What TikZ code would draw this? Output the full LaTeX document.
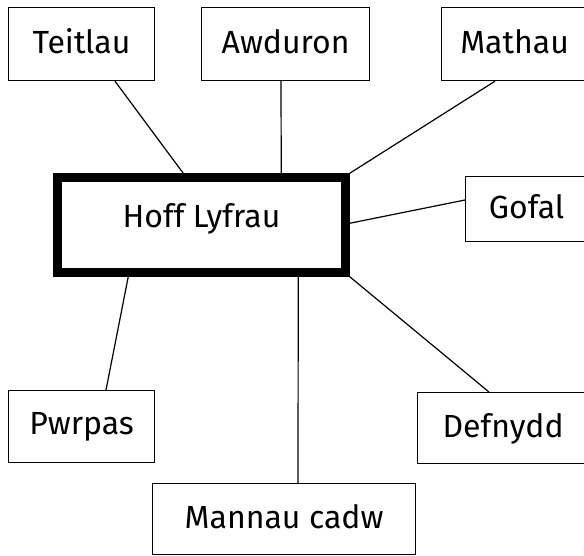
\documentclass[tikz,border=0pt]{standalone}
\usepackage{fontspec}
\setmainfont{Fira Sans}
\usepackage{tikz}

\begin{document}
\begin{tikzpicture}[x=1pt,y=-1pt,
  box/.style={draw,line width=1.2pt,anchor=north west,inner sep=0pt,text depth=6pt,
    font=\fontsize{32}{38}\selectfont},
  mainbox/.style={box,line width=8.5pt,text depth=20pt}]
\useasboundingbox (0,0) rectangle (584,555);
\node[box,minimum width=146pt,minimum height=73pt] (teitlau) at (8,7){Teitlau};
\node[box,minimum width=168pt,minimum height=73pt] (awduron) at (201,7){Awduron};
\node[box,minimum width=146pt,minimum height=73pt] (mathau) at (441,7){Mathau};
\node[mainbox,minimum width=288pt,minimum height=95pt] (hoff) at (53.25,173.25){Hoff Lyfrau};
\node[box,minimum width=122pt,minimum height=65pt] (gofal) at (465,176){Gofal};
\node[box,minimum width=146pt,minimum height=72pt] (pwrpas) at (8,390){Pwrpas};
\node[box,minimum width=171pt,minimum height=71pt] (defnydd) at (417,392){Defnydd};
\node[box,minimum width=263pt,minimum height=71pt] (mannau) at (152,483){Mannau cadw};
\draw[line width=1.2pt] ([xshift=107pt]teitlau.south west) -- ([xshift=130pt]hoff.north west);
\draw[line width=1.2pt] ([xshift=80pt]awduron.south west) -- ([xshift=228pt]hoff.north west);
\draw[line width=1.2pt] ([xshift=54pt]mathau.south west) -- (hoff.north east);
\draw[line width=1.2pt] ([yshift=-24pt]gofal.north west) -- ([yshift=-50pt]hoff.north east);
\draw[line width=1.2pt] ([xshift=98pt]pwrpas.north west) -- ([xshift=75pt]hoff.south west);
\draw[line width=1.2pt] ([xshift=72pt]defnydd.north west) -- (hoff.south east);
\draw[line width=1.2pt] ([xshift=146pt]mannau.north west) -- ([xshift=245pt]hoff.south west);
\end{tikzpicture}
\end{document}
